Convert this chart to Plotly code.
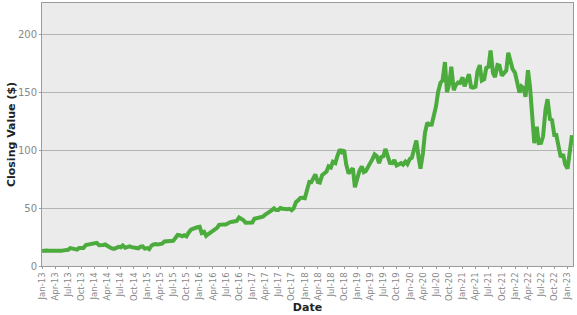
import pandas as pd
import plotly.graph_objects as go

# Semi-monthly closing values (1st and 15th of each month), Jan 2013 - Feb 2023
dates = pd.date_range("2013-01-01", "2023-02-01", freq="SMS")

values_2013 = [12.9, 13.4, 13.3, 13.2, 13.2, 13.2, 13.1, 13.0, 12.6, 13.2, 13.5, 13.8,
               14.0, 15.4, 15.2, 14.7, 14.1, 15.5, 15.6, 15.5, 18.1, 18.5, 19.6, 19.2]
values_2014 = [19.9, 20.0, 17.9, 17.8, 18.2, 18.6, 16.8, 16.2, 15.2, 14.8, 15.6, 16.6,
               16.2, 17.7, 15.7, 16.6, 17.0, 16.3, 16.1, 15.2, 15.3, 16.6, 16.9, 15.0]
values_2015 = [15.5, 14.6, 17.7, 18.6, 19.0, 18.5, 18.6, 19.2, 21.1, 21.3, 21.5, 21.9,
               21.7, 24.0, 26.8, 26.6, 25.7, 26.5, 25.6, 28.5, 31.3, 32.0, 33.2, 33.4]
values_2016 = [33.8, 28.5, 29.4, 26.0, 27.6, 28.7, 29.7, 31.3, 32.9, 35.5, 36.1, 35.8,
               35.8, 37.0, 37.9, 38.2, 38.4, 38.9, 41.9, 41.0, 39.5, 37.4, 37.5, 38.2]
values_2017 = [37.5, 40.8, 41.2, 42.3, 42.3, 42.6, 44.3, 45.3, 46.2, 48.0, 49.7, 48.3,
               48.4, 50.0, 49.4, 49.0, 49.0, 49.3, 48.1, 49.8, 55.3, 56.6, 58.8, 58.9]
values_2018 = [58.5, 65.0, 72.5, 72.3, 75.6, 79.0, 72.4, 72.0, 78.3, 79.5, 81.5, 86.0,
               85.0, 90.0, 88.9, 94.8, 100.6, 98.4, 100.2, 88.0, 79.9, 81.8, 84.5, 68.0]
values_2019 = [75.1, 82.0, 85.9, 81.0, 82.0, 86.0, 89.0, 92.0, 96.3, 95.0, 88.8, 94.0,
               94.7, 101.0, 93.3, 89.0, 88.8, 91.5, 86.8, 88.0, 88.8, 87.5, 90.0, 88.0]
values_2020 = [92.4, 93.5, 100.4, 108.4, 94.2, 84.0, 97.5, 115.0, 123.7, 122.0, 122.1, 129.0,
               137.9, 150.0, 158.2, 160.0, 176.0, 150.0, 157.4, 172.0, 151.8, 156.0, 158.4, 158.0]
values_2021 = [162.8, 155.0, 160.3, 165.5, 154.6, 154.0, 154.7, 168.0, 173.4, 160.0, 161.2, 171.0,
               172.0, 186.0, 166.4, 163.0, 173.5, 173.0, 164.3, 166.0, 168.6, 184.0, 175.4, 170.0]
values_2022 = [166.7, 158.0, 149.6, 155.0, 153.6, 146.0, 169.0, 155.0, 124.3, 106.0, 120.2, 106.0,
               106.2, 112.0, 135.0, 144.0, 126.8, 126.0, 113.0, 113.0, 102.4, 94.0, 96.5, 88.0]
values_2023 = [84.0, 97.0, 112.9]

closing = (values_2013 + values_2014 + values_2015 + values_2016 + values_2017 +
           values_2018 + values_2019 + values_2020 + values_2021 + values_2022 + values_2023)

tick_dates = pd.date_range("2013-01-01", "2023-01-01", freq="QS")
tick_labels = [d.strftime("%b-%y") for d in tick_dates]
y_ticks = [0, 50, 100, 150, 200]

fig = go.Figure()
fig.add_trace(go.Scatter(
    x=dates, y=closing, mode="lines",
    line=dict(color="#4bab3c", width=4),
    hoverinfo="skip", showlegend=False,
))

fig.update_layout(
    width=577, height=315,
    margin=dict(l=42, r=4, t=3, b=49),
    paper_bgcolor="white",
    plot_bgcolor="#ebebeb",
    font=dict(family="DejaVu Sans", size=9, color="#888888"),
)
fig.update_xaxes(
    range=[pd.Timestamp("2012-12-31"), pd.Timestamp("2023-02-08")],
    tickvals=tick_dates, ticktext=tick_labels, tickangle=-90,
    showgrid=False, zeroline=False, automargin=False,
    showline=True, linecolor="#9a9a9a", linewidth=1, mirror=True,
    ticks="outside", ticklen=2, tickcolor="#9a9a9a",
    tickfont=dict(family="DejaVu Sans", size=8.5, color="#888888"),
    title=dict(text="<b>Date</b>", font=dict(size=11, color="#222222"), standoff=2),
)
fig.update_yaxes(
    range=[0, 227],
    tickvals=y_ticks,
    showgrid=True, gridcolor="#b4b4b4", gridwidth=1, zeroline=False, automargin=False,
    showline=True, linecolor="#9a9a9a", linewidth=1, mirror=True,
    ticks="outside", ticklen=2, tickcolor="#9a9a9a",
    tickfont=dict(size=10, color="#888888"),
    title=dict(text="<b>Closing Value ($)</b>", font=dict(size=11, color="#222222"), standoff=0),
)

fig.write_html("out.html")
